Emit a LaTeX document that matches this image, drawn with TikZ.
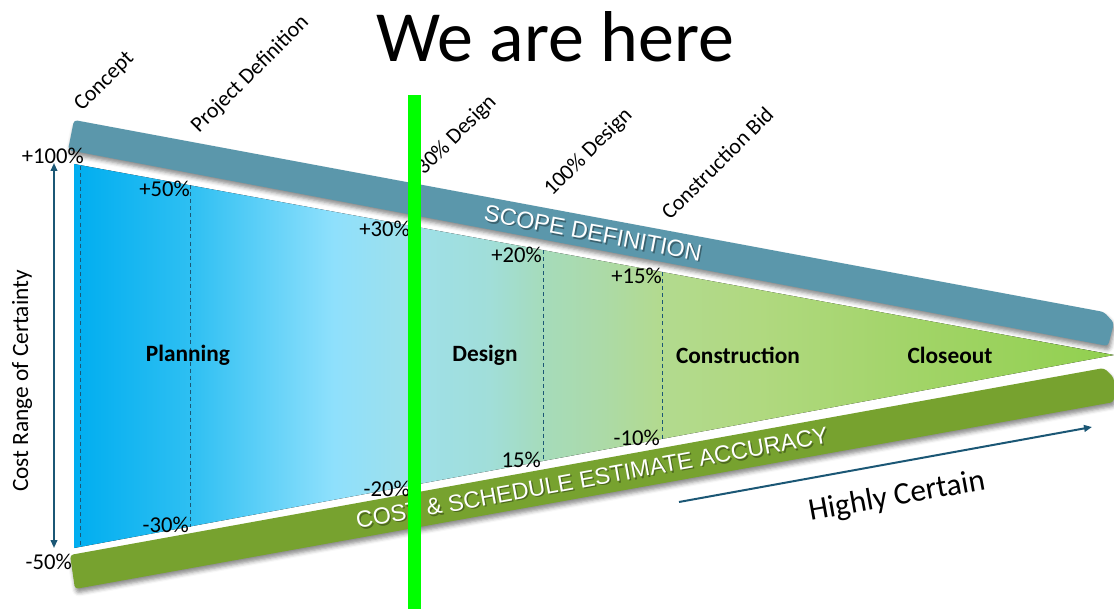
\documentclass[tikz,border=0pt]{standalone}
\usepackage{fontspec}
\setmainfont{Carlito}
\newfontfamily\bandfont{Liberation Sans}
\usetikzlibrary{arrows.meta, shadows.blur}

\definecolor{scopeteal}{RGB}{91,151,171}
\definecolor{accgreen}{RGB}{119,162,47}
\definecolor{arrowteal}{RGB}{27,87,117}
\definecolor{markgreen}{RGB}{0,255,0}

% funnel colours, left (blue) to right (green)
\pgfdeclarehorizontalshading{funnelfill}{100bp}{
  rgb(0bp)=(0.0,0.68,0.94);
  rgb(25bp)=(0.0,0.68,0.94);
  rgb(30.6bp)=(0.18,0.75,0.95);
  rgb(37.5bp)=(0.56,0.88,0.99);
  rgb(41bp)=(0.62,0.88,0.92);
  rgb(45bp)=(0.63,0.87,0.85);
  rgb(47.6bp)=(0.65,0.86,0.73);
  rgb(50bp)=(0.67,0.855,0.67);
  rgb(53.2bp)=(0.70,0.855,0.56);
  rgb(58bp)=(0.69,0.85,0.50);
  rgb(66bp)=(0.63,0.83,0.40);
  rgb(75bp)=(0.57,0.815,0.31);
  rgb(100bp)=(0.57,0.815,0.31)}

\begin{document}
\begin{tikzpicture}[x=0.75pt, y=-0.75pt,
    >={Triangle[length=6pt, width=5pt]},
    pct/.style={font=\fontsize{17}{20}\selectfont, inner sep=0pt, anchor=east},
    phase/.style={font=\fontsize{17.5}{20}\selectfont\bfseries},
    milestone/.style={font=\fontsize{16.5}{19}\selectfont, rotate=45, anchor=base west, inner sep=0pt},
    bandtext/.style={font=\bandfont\fontsize{17.5}{21}\selectfont, text=white, inner sep=0pt},
    bandshadow/.style={bandtext, text=black, opacity=0.35},
    gate/.style={draw=arrowteal, line width=0.7pt, dash pattern=on 3pt off 2.3pt},
    band/.style={blur shadow={shadow xshift=1pt, shadow yshift=-3pt, shadow blur radius=3pt, shadow opacity=45}}
]
    \useasboundingbox (0,0) rectangle (1114,609);

    % Funnel
    \fill[shading=funnelfill] (74,164) -- (1114,355) -- (74,548) -- cycle;

    % Bands
    \fill[scopeteal, band, rounded corners=2.5pt] (74,120) -- (1104,312) -- (1114,323) -- (1108,346) -- (68,150) -- cycle;
    \fill[accgreen, band, rounded corners=2.5pt] (70,555) -- (1104,368) -- (1114,378) -- (1114,402) -- (75,589) -- cycle;

    \node[bandshadow, rotate=-10.6] at (594.5,234.5) {SCOPE DEFINITION};
    \node[bandtext, rotate=-10.6] (scope) at (593,233) {SCOPE DEFINITION};
    \node[bandshadow, rotate=10.3] at (593.5,479.5) {COST \& SCHEDULE ESTIMATE ACCURACY};
    \node[bandtext, rotate=10.3] (accuracy) at (592,478) {COST \& SCHEDULE ESTIMATE ACCURACY};

    % Gates
    \foreach \g/\x/\t/\b in {concept/80/166/547, projdef/190/185/527, design100/543/250/461, bid/662/272/439}{
        \coordinate (\g-top) at (\x,\t);
        \coordinate (\g-bot) at (\x,\b);
        \draw[gate] (\g-top) -- (\g-bot);
    }

    % Milestones
    \node[milestone] (concept) at (82,112) {Concept};
    \node[milestone] (projdef) at (199,134) {Project Definition};
    \node[milestone] (design30) at (424,176) {30\% Design};
    \node[milestone] (design100) at (552,197) {100\% Design};
    \node[milestone] (bid) at (670,221) {Construction Bid};

    % Range labels
    \node[pct] (p100) at (84,156) {+100\%};
    \node[pct] (p50) at (190,189) {+50\%};
    \node[pct] (p30) at (410,229) {+30\%};
    \node[pct] (p20) at (542,255) {+20\%};
    \node[pct] (p15) at (662,276) {+15\%};
    \node[pct] (m50) at (72,562) {-50\%};
    \node[pct] (m30) at (189,525) {-30\%};
    \node[pct] (m20) at (410,489) {-20\%};
    \node[pct] (m15) at (541,460) {15\%};
    \node[pct] (m10) at (660,438) {-10\%};

    % Phases
    \node[phase] (planning) at (188,355) {Planning};
    \node[phase] (design) at (485,355) {Design};
    \node[phase] (construction) at (738,355) {Construction};
    \node[phase] (closeout) at (950,355) {Closeout};

    % Axes
    \coordinate (range-top) at (54,163);
    \coordinate (range-bot) at (54,548);
    \draw[arrowteal, line width=1.3pt, <->] (range-top) -- (range-bot);
    \node[rotate=90, font=\fontsize{17.5}{20}\selectfont] (certainty) at (22,381) {Cost Range of Certainty};

    \coordinate (trend-start) at (679,502);
    \coordinate (trend-end) at (1092,427);
    \draw[arrowteal, line width=1.5pt, ->] (trend-start) -- (trend-end);
    \node[rotate=10.3, font=\fontsize{23.5}{26}\selectfont] (certain) at (897,497) {Highly Certain};

    % Title
    \node[anchor=base, font=\fontsize{54}{60}\selectfont] (title) at (555,62) {We are here};

    % Marker
    \fill[markgreen] (408,95) rectangle (421,609);

\end{tikzpicture}
\end{document}
